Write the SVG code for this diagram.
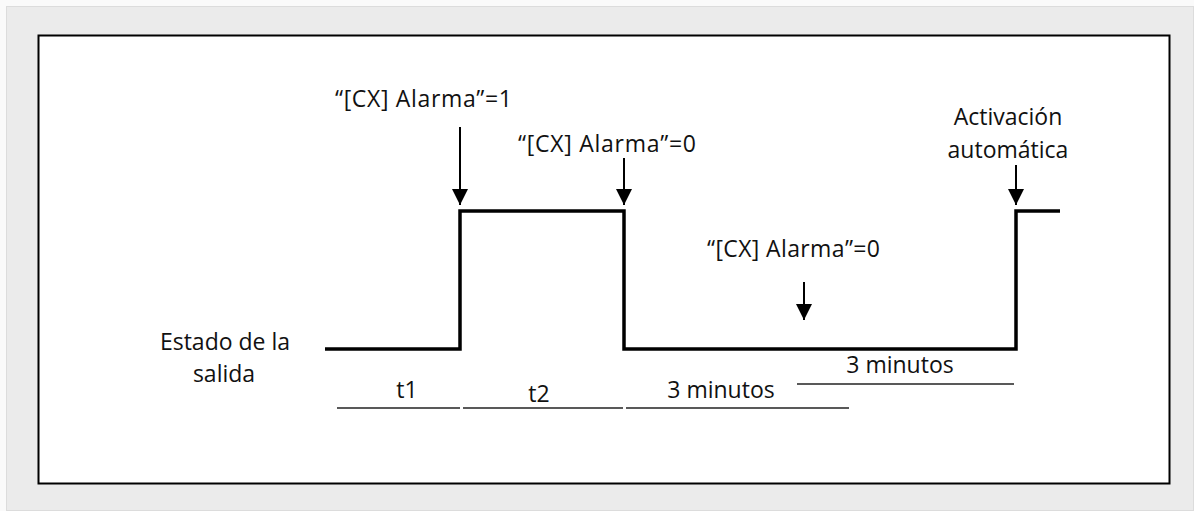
<svg xmlns="http://www.w3.org/2000/svg" width="1194" height="511" viewBox="0 0 1194 511">
<defs>
<style>
text{font-family:"Open Sans","Noto Sans",sans-serif;font-size:23px;fill:#111}
.wave{fill:none;stroke:#000;stroke-width:3.5;stroke-linejoin:miter}
.arr{stroke:#000;stroke-width:2;fill:none}
.tl{stroke:#222;stroke-width:1.5}
.mid{text-anchor:middle}
</style>
<marker id="ah" markerWidth="8" markerHeight="8" refX="8" refY="4" orient="auto" markerUnits="strokeWidth" viewBox="0 0 8 8">
<path d="M0,0 L8,4 L0,8 z" fill="#000"/>
</marker>
</defs>
<rect x="0" y="0" width="1194" height="511" fill="#fafafa"/>
<rect x="6.5" y="6.5" width="1187" height="504" fill="#ebebeb" stroke="#dcdcdc" stroke-width="1"/>
<rect x="38.5" y="35.5" width="1131" height="448" fill="#fff" stroke="#000" stroke-width="2"/>
<g id="waveform">
<path class="wave" d="M325,349 H460 V211 H624 V349 H1016 V211 H1060"/>
</g>
<g id="connectors">
<path class="arr" d="M460,127 V205" marker-end="url(#ah)"/>
<path class="arr" d="M624,158 V205" marker-end="url(#ah)"/>
<path class="arr" d="M804,282 V320" marker-end="url(#ah)"/>
<path class="arr" d="M1016,165 V205" marker-end="url(#ah)"/>
</g>
<g id="timeline">
<line class="tl" x1="337" y1="408" x2="460" y2="408"/>
<line class="tl" x1="463" y1="408" x2="623" y2="408"/>
<line class="tl" x1="626" y1="408" x2="849" y2="408"/>
<line class="tl" x1="797" y1="384" x2="1014" y2="384"/>
</g>
<g id="labels">
<text x="335" y="107" textLength="177" lengthAdjust="spacing">“[CX] Alarma”=1</text>
<text x="518" y="152" textLength="178" lengthAdjust="spacing">“[CX] Alarma”=0</text>
<text x="707" y="257" textLength="173" lengthAdjust="spacing">“[CX] Alarma”=0</text>
<text class="mid" x="1008" y="125">Activación</text>
<text class="mid" x="1008" y="158">automática</text>
<text class="mid" x="225" y="350">Estado de la</text>
<text class="mid" x="224" y="382">salida</text>
<text class="mid" x="407" y="398">t1</text>
<text class="mid" x="539" y="402">t2</text>
<text class="mid" x="721" y="398">3 minutos</text>
<text class="mid" x="900" y="373">3 minutos</text>
</g>
</svg>
